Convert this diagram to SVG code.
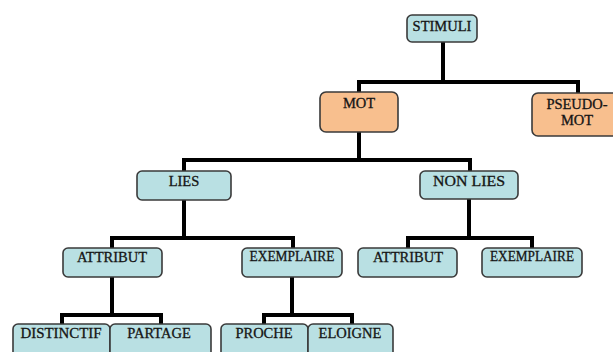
<svg xmlns="http://www.w3.org/2000/svg" width="613" height="352" viewBox="0 0 613 352">
<style>
.b{fill:#b9e0e3;stroke:#3a3a3a;stroke-width:1.6}
.o{fill:#f8bf8e;stroke:#3a3a3a;stroke-width:1.6}
text{font-family:"Liberation Serif","Times New Roman",serif;font-size:14.5px;fill:#151515;stroke:#151515;stroke-width:0.3;text-anchor:middle}
.c{fill:none;stroke:#000;stroke-width:4;stroke-linejoin:miter}
</style>
<rect width="613" height="352" fill="#fff"/>
<g id="connectors">
<path class="c" d="M443 42V82M359 92V82H578V93"/>
<path class="c" d="M359 132V160M184 171V160H470V171"/>
<path class="c" d="M184 200V238M112 248V238H293V248"/>
<path class="c" d="M469 199V238M408 248V238H532V248"/>
<path class="c" d="M112 277V315M62 324V315H161V324"/>
<path class="c" d="M292 277V315M264 324V315H352V324"/>
</g>
<g id="stimuli"><rect class="b" x="407" y="15" width="70" height="27" rx="5"/><text x="442" y="31">STIMULI</text></g>
<g id="mot"><rect class="o" x="320" y="92" width="78" height="40" rx="6"/><text x="359" y="108">MOT</text></g>
<g id="pseudomot"><rect class="o" x="532" y="93" width="92" height="43" rx="6"/><text x="577" y="109">PSEUDO-</text><text x="577" y="125">MOT</text></g>
<g id="lies"><rect class="b" x="137" y="171" width="94" height="29" rx="5"/><text x="184" y="186">LIES</text></g>
<g id="nonlies"><rect class="b" x="420" y="171" width="98" height="28" rx="5"/><text x="469" y="186" textLength="72" lengthAdjust="spacingAndGlyphs">NON LIES</text></g>
<g id="attribut1"><rect class="b" x="63" y="248" width="99" height="29" rx="5"/><text x="112" y="262">ATTRIBUT</text></g>
<g id="exemplaire1"><rect class="b" x="242" y="248" width="100" height="29" rx="5"/><text x="292" y="261" textLength="85" lengthAdjust="spacingAndGlyphs">EXEMPLAIRE</text></g>
<g id="attribut2"><rect class="b" x="358" y="248" width="99" height="29" rx="5"/><text x="408" y="262">ATTRIBUT</text></g>
<g id="exemplaire2"><rect class="b" x="482" y="248" width="100" height="29" rx="5"/><text x="532" y="261" textLength="84" lengthAdjust="spacingAndGlyphs">EXEMPLAIRE</text></g>
<g id="distinctif"><rect class="b" x="13" y="324" width="97" height="40" rx="5"/><text x="61" y="338" textLength="81" lengthAdjust="spacingAndGlyphs">DISTINCTIF</text></g>
<g id="partage"><rect class="b" x="110" y="324" width="101" height="40" rx="5"/><text x="159" y="338">PARTAGE</text></g>
<g id="proche"><rect class="b" x="221" y="324" width="87" height="40" rx="5"/><text x="264" y="338">PROCHE</text></g>
<g id="eloigne"><rect class="b" x="308" y="324" width="85" height="40" rx="5"/><text x="350" y="338">ELOIGNE</text></g>
</svg>
